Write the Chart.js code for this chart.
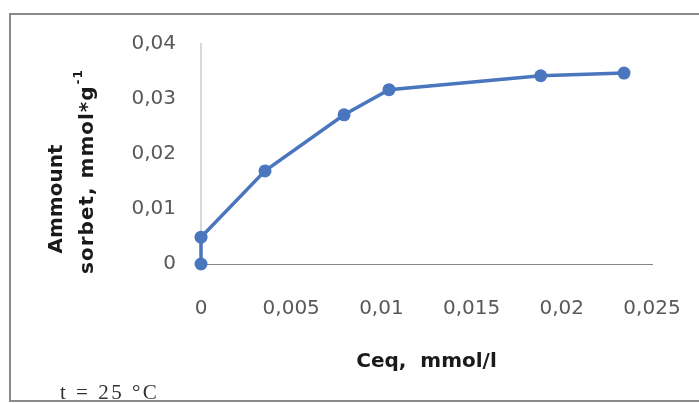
<!DOCTYPE html>
<html>
<head>
<meta charset="utf-8">
<script src="https://cdn.jsdelivr.net/npm/chart.js@4.4.0/dist/chart.umd.min.js"></script>
<style>
html, body { margin: 0; padding: 0; background: #fff; overflow: hidden; }
#wrap { position: relative; width: 699px; height: 403px; }
#frame { position: absolute; left: 9px; top: 13px; width: 720px; height: 385px; border: 2px solid #8a8a8a; pointer-events: none; }
</style>
</head>
<body>
<div id="wrap">
  <canvas id="chart" width="699" height="403"></canvas>
  <div id="frame"></div>
</div>
<script>
// values
const ceq = [0, 0, 0.00355, 0.00793, 0.01042, 0.01883, 0.02345];
const sorbed = [0, 0.00488, 0.01693, 0.02712, 0.0317, 0.03423, 0.03472];
const xTicks = [0, 0.005, 0.01, 0.015, 0.02, 0.025];
const yTicks = [0, 0.01, 0.02, 0.03, 0.04];
const xTitle = 'Ceq,  mmol/l';
const yTitle = ['Ammount', 'sorbet, mmol*g', '-1'];
const note = 't = 25 °C';

const fmt = v => String(+v.toFixed(4)).replace('.', ',');

const extraText = {
    id: 'extraText',
    afterDraw(chart) {
        const ctx = chart.ctx;
        ctx.save();
        ctx.fillStyle = '#1a1a1a';
        ctx.textBaseline = 'middle';
        ctx.textAlign = 'left';

        // first line of the y title
        ctx.font = 'bold 20px "DejaVu Sans"';
        ctx.save();
        ctx.translate(57, 199);
        ctx.rotate(-Math.PI / 2);
        let w = ctx.measureText(yTitle[0]).width;
        ctx.fillText(yTitle[0], -w / 2, 0);
        ctx.restore();

        // second line with superscript
        ctx.save();
        ctx.translate(88, 172);
        ctx.rotate(-Math.PI / 2);
        ctx.font = 'bold 20px "DejaVu Sans"';
        ctx.letterSpacing = '1px';
        const w1 = ctx.measureText(yTitle[1]).width;
        ctx.font = 'bold 12px "DejaVu Sans"';
        const w2 = ctx.measureText(yTitle[2]).width;
        const x0 = -(w1 + w2) / 2;
        ctx.font = 'bold 20px "DejaVu Sans"';
        ctx.fillText(yTitle[1], x0, 0);
        ctx.font = 'bold 12px "DejaVu Sans"';
        ctx.fillText(yTitle[2], x0 + w1 + 1, -9);
        ctx.restore();

        // temperature note
        ctx.font = '21px "Liberation Serif"';
        ctx.textBaseline = 'alphabetic';
        ctx.fillStyle = '#333';
        ctx.letterSpacing = '2.5px';
        ctx.fillText(note, 60, 399);
        ctx.restore();
    }
};

const tickFont = { family: 'DejaVu Sans', size: 20 };

new Chart(document.getElementById('chart').getContext('2d'), {
    type: 'line',
    data: {
        datasets: [{
            data: ceq.map((x, i) => ({ x: x, y: sorbed[i] })),
            borderColor: '#4a76be',
            backgroundColor: '#4a76be',
            borderWidth: 3.5,
            pointRadius: 6.5,
            pointBorderWidth: 0,
            tension: 0,
            fill: false,
            clip: false
        }]
    },
    options: {
        responsive: false,
        animation: false,
        layout: { padding: { left: 0, top: 44, right: 47, bottom: 0 } },
        plugins: { legend: { display: false }, tooltip: { enabled: false } },
        scales: {
            x: {
                type: 'linear',
                min: 0,
                max: 0.025,
                afterBuildTicks: s => { s.ticks = xTicks.map(v => ({ value: v })); },
                afterFit: s => { s.height = 403 - 264; },
                grid: { display: false, drawTicks: true, tickLength: 29 },
                border: { display: true, color: '#868686', width: 1 },
                ticks: { padding: 4, color: '#595959', font: tickFont, maxRotation: 0, autoSkip: false, callback: v => fmt(v) },
                title: { display: true, text: xTitle, color: '#1a1a1a', font: { family: 'DejaVu Sans', size: 20, weight: 'bold' }, padding: { top: 0, bottom: 29 } }
            },
            y: {
                type: 'linear',
                min: 0,
                max: 0.04,
                afterBuildTicks: s => { s.ticks = yTicks.map(v => ({ value: v })); },
                afterFit: s => { s.width = 201; },
                grid: { display: false, drawTicks: false },
                border: { display: true, color: '#d9d9d9', width: 2 },
                ticks: { padding: 25, color: '#595959', font: tickFont, callback: v => fmt(v) }
            }
        }
    },
    plugins: [extraText]
});
</script>
</body>
</html>
